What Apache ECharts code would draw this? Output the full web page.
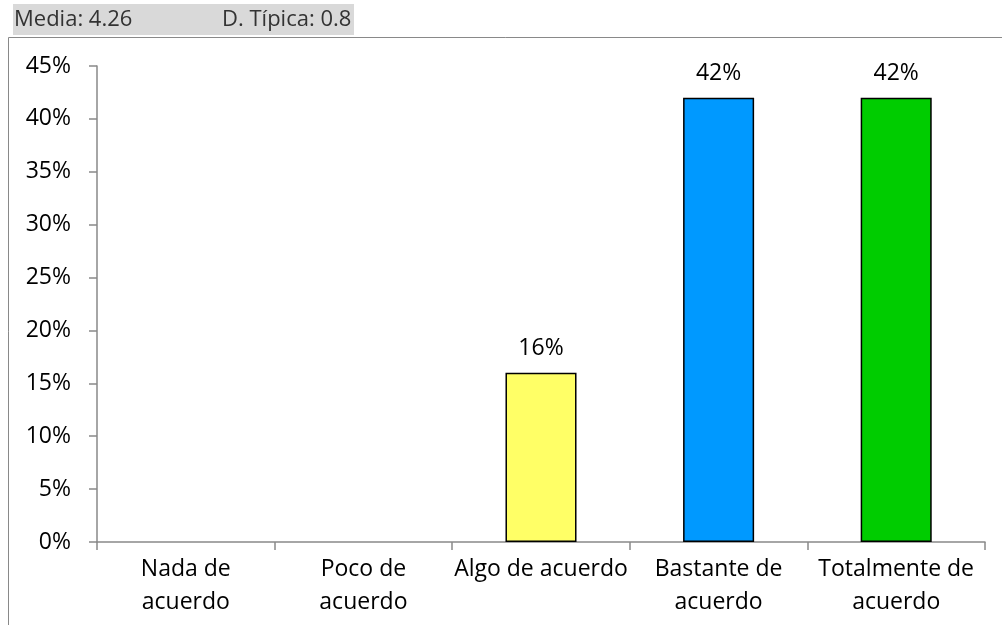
<!DOCTYPE html>
<html>
<head>
<meta charset="utf-8">
<script src="https://cdn.jsdelivr.net/npm/echarts@6/dist/echarts.min.js"></script>
<style>
  html, body { margin: 0; padding: 0; background: #ffffff; }
  #chart { width: 1002px; height: 625px; }
</style>
</head>
<body>
<div id="chart"></div>
<script>
// Survey answers and the share of respondents for each one
const categories = ['Nada de\nacuerdo', 'Poco de\nacuerdo', 'Algo de acuerdo', 'Bastante de\nacuerdo', 'Totalmente de\nacuerdo'];
const percentages = [0, 0, 16, 42, 42];
const barColors = ['#FFFF66', '#FFFF66', '#FFFF66', '#0099FF', '#00CC00'];
const yTicks = [0, 5, 10, 15, 20, 25, 30, 35, 40, 45];
const mediaText = 'Media: 4.26';
const tipicaText = 'D. Típica: 0.8';

const FONT = '"Open Sans", sans-serif';
const FS = 23;
const AXIS_GREY = '#898989';

const chart = echarts.init(document.getElementById('chart'), null, { renderer: 'canvas' });

chart.setOption({
  animation: false,
  backgroundColor: '#ffffff',
  grid: { left: 97, right: 17, top: 66, bottom: 83, containLabel: false },
  graphic: [
    // header band with the summary statistics
    { type: 'rect', left: 13, top: 4, shape: { width: 341, height: 31 }, style: { fill: '#D9D9D9' }, silent: true },
    { type: 'text', left: 14, top: 9, style: { text: mediaText, font: '22px ' + FONT, fill: '#333333' } },
    { type: 'text', left: 222, top: 9, style: { text: tipicaText, font: '22px ' + FONT, fill: '#333333' } },
    // chart frame
    { type: 'polyline', shape: { points: [[8.5, 625], [8.5, 37.5], [1002, 37.5]] }, style: { stroke: AXIS_GREY, lineWidth: 1, fill: null }, silent: true }
  ],
  xAxis: {
    type: 'category',
    data: categories,
    axisLine: { show: true, lineStyle: { color: AXIS_GREY, width: 1.5 } },
    axisTick: { show: true, alignWithLabel: false, length: 8, lineStyle: { color: AXIS_GREY, width: 1.5 } },
    axisLabel: {
      interval: 0,
      color: '#000000',
      fontFamily: FONT,
      fontSize: FS,
      lineHeight: 33,
      margin: 11
    }
  },
  yAxis: {
    type: 'value',
    min: 0,
    max: 45,
    interval: 5,
    splitLine: { show: false },
    axisLine: { show: true, lineStyle: { color: AXIS_GREY, width: 1.5 } },
    axisTick: { show: true, length: 8, lineStyle: { color: AXIS_GREY, width: 1.5 } },
    axisLabel: {
      color: '#000000',
      fontFamily: FONT,
      fontSize: FS,
      margin: 26,
      formatter: v => (yTicks.includes(v) ? v + '%' : '')
    }
  },
  series: [{
    type: 'bar',
    data: percentages.map((v, i) => ({
      value: v,
      itemStyle: { color: barColors[i], borderWidth: v > 0 ? 1.5 : 0 }
    })),
    barWidth: '40%',
    itemStyle: { borderColor: '#000000' },
    label: {
      show: true,
      position: 'top',
      distance: 13,
      color: '#000000',
      fontFamily: FONT,
      fontSize: FS,
      formatter: p => (p.value > 0 ? p.value + '%' : '')
    }
  }]
});
</script>
</body>
</html>
